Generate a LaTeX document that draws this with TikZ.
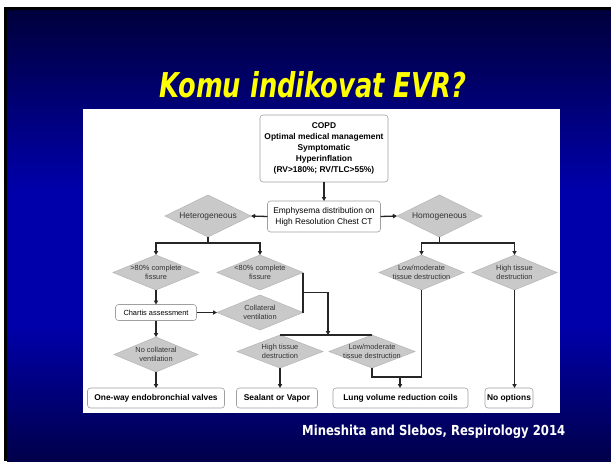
\documentclass[tikz,border=0pt]{standalone}
\usepackage{fontspec}
\setmainfont{Liberation Sans}
\newfontfamily\titlefont{DejaVu Sans}
\usetikzlibrary{arrows.meta}
\pgfdeclarelayer{slide}
\pgfdeclarelayer{shapes}
\pgfsetlayers{slide,shapes,main}
\definecolor{bgtop}{HTML}{00003C}
\definecolor{bgmid}{HTML}{0000AA}
\definecolor{bgbot}{HTML}{00004A}
\definecolor{titley}{HTML}{FFFF00}
\definecolor{linec}{HTML}{262626}
\definecolor{dfillc}{HTML}{C9C9C9}
\definecolor{dbordc}{HTML}{B4B4B4}
\definecolor{boxc}{HTML}{A0A0A0}
\definecolor{dtextc}{HTML}{333333}
\pgfdeclareverticalshading{slidebg}{100bp}{color(0bp)=(bgbot); color(25bp)=(bgbot);
  color(40bp)=(bgmid); color(55bp)=(bgmid); color(75bp)=(bgtop); color(100bp)=(bgtop)}
\tikzset{
  boxnode/.style={draw=boxc, line width=0.6pt, rounded corners=3pt, fill=white, align=center,
    inner sep=1pt, outer sep=0pt, font=\fontsize{8.4}{10.8}\selectfont},
  dtext/.style={align=center, inner sep=0pt, outer sep=0pt, text=dtextc,
    font=\fontsize{7.4}{9}\selectfont},
  dbig/.style={dtext, font=\fontsize{8.4}{10}\selectfont},
  conn/.style={draw=linec, line width=1.3pt},
  arr/.style={conn, -{Triangle[length=4pt,width=4.2pt]}},
  dshape/.style={fill=dfillc, draw=dbordc, line width=0.5pt}
}
\newcommand\dia[7]{%
  \node[#7, minimum width=#4pt, minimum height=#5pt] (#1) at (#2,#3) {#6};
  \begin{pgfonlayer}{shapes}
    \filldraw[dshape] (#1.north) -- (#1.east) -- (#1.south) -- (#1.west) -- cycle;
  \end{pgfonlayer}}
\begin{document}
\begin{tikzpicture}[x=1pt,y=-1pt]
\useasboundingbox (0,0) rectangle (611,461);
\begin{pgfonlayer}{slide}
  \fill[white] (0,0) rectangle (611,461);
  \fill[black] (4,7) rectangle (611,461);
  \shade[shading=slidebg] (7,10) rectangle (611,461);
  \fill[white] (83,109) rectangle (560,413);
\end{pgfonlayer}

% title and citation
\node[text=titley, inner sep=0pt] (title) at (313,85)
  {\resizebox{306pt}{26pt}{\titlefont\bfseries\itshape Komu indikovat EVR?}};
\node[text=white, inner sep=0pt, anchor=base west] (cite) at (302,435)
  {\resizebox{263pt}{10.5pt}{\titlefont\bfseries Mineshita and Slebos, Respirology 2014}};

% boxes
\node[boxnode, font=\fontsize{8.4}{10.8}\selectfont\bfseries, minimum width=128pt, minimum height=67pt] (copd) at (324,148.5)
  {COPD\\Optimal medical management\\Symptomatic\\Hyperinflation\\(RV>180\%; RV/TLC>55\%)};
\node[boxnode, minimum width=113pt, minimum height=31pt] (emph) at (324,216.5)
  {Emphysema distribution on\\High Resolution Chest CT};
\node[boxnode, font=\fontsize{7.4}{9}\selectfont, minimum width=81pt, minimum height=16pt] (chartis) at (156,312.5)
  {Chartis assessment};
\node[boxnode, font=\fontsize{8.4}{10}\selectfont\bfseries, minimum width=137pt, minimum height=20pt] (oneway) at (156,398)
  {One-way endobronchial valves};
\node[boxnode, font=\fontsize{8.4}{10}\selectfont\bfseries, minimum width=81pt, minimum height=20pt] (sealant) at (277,398)
  {Sealant or Vapor};
\node[boxnode, font=\fontsize{8.4}{10}\selectfont\bfseries, minimum width=135pt, minimum height=20pt] (lvrc) at (400.5,398)
  {Lung volume reduction coils};
\node[boxnode, font=\fontsize{8.4}{10}\selectfont\bfseries, minimum width=48pt, minimum height=20pt] (noopt) at (509,398)
  {No options};

% diamonds
\dia{hetero}{208}{216}{86}{42}{Heterogeneous}{dbig}
\dia{homo}{439.5}{216}{85}{42}{Homogeneous}{dbig}
\dia{gt80}{156}{272.5}{86}{35}{>80\% complete\\fissure}{dtext}
\dia{lt80}{260}{272.5}{86}{35}{<80\% complete\\fissure}{dtext}
\dia{coll}{260}{312.5}{86}{35}{Collateral\\ventilation}{dtext}
\dia{nocoll}{156}{354.5}{84}{35}{No collateral\\ventilation}{dtext}
\dia{hightL}{280}{351.5}{86}{33}{High tissue\\destruction}{dtext}
\dia{lowmodL}{372}{351.5}{86}{33}{Low/moderate\\tissue destruction}{dtext}
\dia{lowmodR}{421.5}{272.5}{85}{35}{Low/moderate\\tissue destruction}{dtext}
\dia{hightR}{514.5}{272.5}{85}{35}{High tissue\\destruction}{dtext}

% coordinates
\coordinate (hbar) at (208,243);
\coordinate (mbar) at (439.5,243);
\coordinate (jm) at (303,292.5);
\coordinate (lbar) at (328,335);
\coordinate (cj) at (400,377);

% connectors
\draw[arr] (copd.south) -- (copd.south |- emph.north);
\draw[arr] (emph.west) -- (hetero.east);
\draw[arr] (emph.east) -- (homo.west);
\draw[conn] (hetero.south) -- (hbar);
\draw[arr] (hbar) -| (gt80.north);
\draw[arr] (hbar) -| (lt80.north);
\draw[arr] (gt80.south) -- (chartis.north);
\draw[arr] (chartis.east) -- (coll.west);
\draw[arr] (chartis.south) -- (nocoll.north);
\draw[arr] (nocoll.south) -- (oneway.north);
\draw[conn] (lt80.east) -- (coll.east);
\draw[conn] (hightL.north) -- (lowmodL.north);
\draw[arr] (jm) -| (lbar);
\draw[arr] (hightL.south) -- (hightL.south |- sealant.north);
\draw[conn] (homo.south) -- (mbar);
\draw[arr] (mbar) -| (lowmodR.north);
\draw[arr] (mbar) -| (hightR.north);
\draw[arr] (hightR.south) -- (hightR.south |- noopt.north);
\draw[conn] (lowmodL.south) -- (lowmodL.south |- cj) -- (lowmodR.south |- cj) -- (lowmodR.south);
\draw[arr] (cj) -- (cj |- lvrc.north);
\end{tikzpicture}
\end{document}
